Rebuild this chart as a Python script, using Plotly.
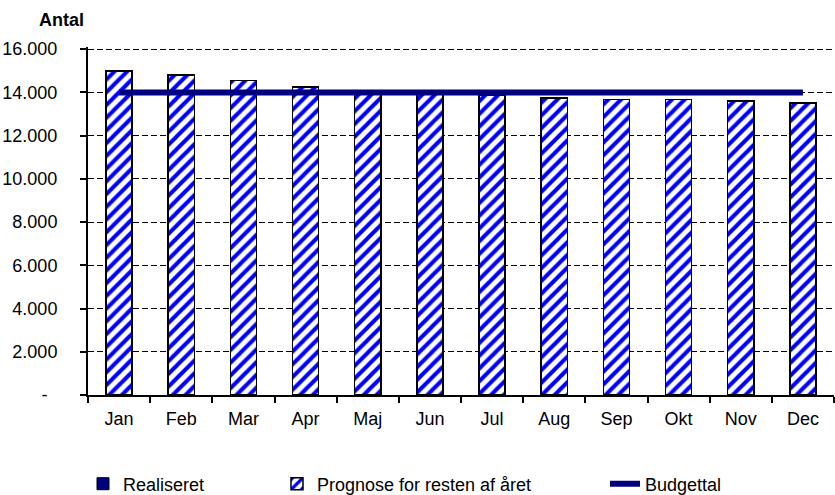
import plotly.graph_objects as go

months = ["Jan", "Feb", "Mar", "Apr", "Maj", "Jun", "Jul", "Aug", "Sep", "Okt", "Nov", "Dec"]
realiseret = [None] * 12
prognose = [15000, 14800, 14550, 14250, 13950, 13950, 13850, 13750, 13670, 13670, 13600, 13500]
budget = [14000] * 12
yticks = [0, 2000, 4000, 6000, 8000, 10000, 12000, 14000, 16000]
yticklabels = ["-\u00a0\u00a0", "2.000", "4.000", "6.000", "8.000", "10.000", "12.000", "14.000", "16.000"]

FONT = "Liberation Sans, Arial, sans-serif"
L, T, B, R = 88, 47, 100, 1
PW, PH = 835 - L - R, 495 - T - B

fig = go.Figure()
fig.add_trace(go.Bar(
    x=months, y=realiseret, name="Realiseret", legend="legend",
    marker=dict(color="#000080", line=dict(color="black", width=1)),
))
fig.add_trace(go.Bar(
    x=months, y=prognose, name="Prognose for resten af året", legend="legend2",
    marker=dict(color="white", line=dict(color="black", width=1.5),
                pattern=dict(shape="/", fgcolor="#0000FF", bgcolor="white", size=9, solidity=0.45,
                             fgopacity=1)),
))
fig.add_trace(go.Scatter(
    x=months, y=budget, name="Budgettal", mode="lines", legend="legend3",
    line=dict(color="#000080", width=6),
))

def leg(text_x):
    return dict(x=(text_x - 40 - L) / PW, xanchor="left", y=-(484 - (T + PH)) / PH, yanchor="middle",
                orientation="h", font=dict(size=18, family=FONT), bgcolor="rgba(0,0,0,0)",
                itemwidth=30)

fig.update_layout(
    width=835, height=495,
    margin=dict(l=L, r=R, t=T, b=B, autoexpand=False),
    paper_bgcolor="white", plot_bgcolor="white",
    barmode="stack", bargap=0.58,
    font=dict(family=FONT, size=18, color="black"),
    showlegend=True,
    legend=leg(123),
    legend2=leg(317),
    legend3=leg(645),
)
fig.add_annotation(text="<b>Antal</b>", xref="paper", yref="paper", x=(37 - L) / PW, y=1 + (T - 20) / PH,
                   xanchor="left", yanchor="middle", showarrow=False, font=dict(size=18, family=FONT))

fig.update_xaxes(
    showline=True, linecolor="black", linewidth=2,
    ticks="outside", tickson="boundaries", ticklen=6, tickcolor="black", tickwidth=1.5,
    showgrid=False, automargin=False, ticklabelstandoff=6,
)
fig.update_yaxes(
    range=[0, 16100], tickvals=yticks, ticktext=yticklabels,
    showline=True, linecolor="black", linewidth=2,
    ticks="outside", ticklen=6, tickcolor="black", tickwidth=1.5,
    showgrid=True, gridcolor="black", griddash="6px,3px", gridwidth=1,
    zeroline=False, automargin=False, ticklabelstandoff=19,
)

fig.write_html("out.html", config={"displayModeBar": False},
               post_script="document.body.style.margin='0';document.body.style.padding='0';")
